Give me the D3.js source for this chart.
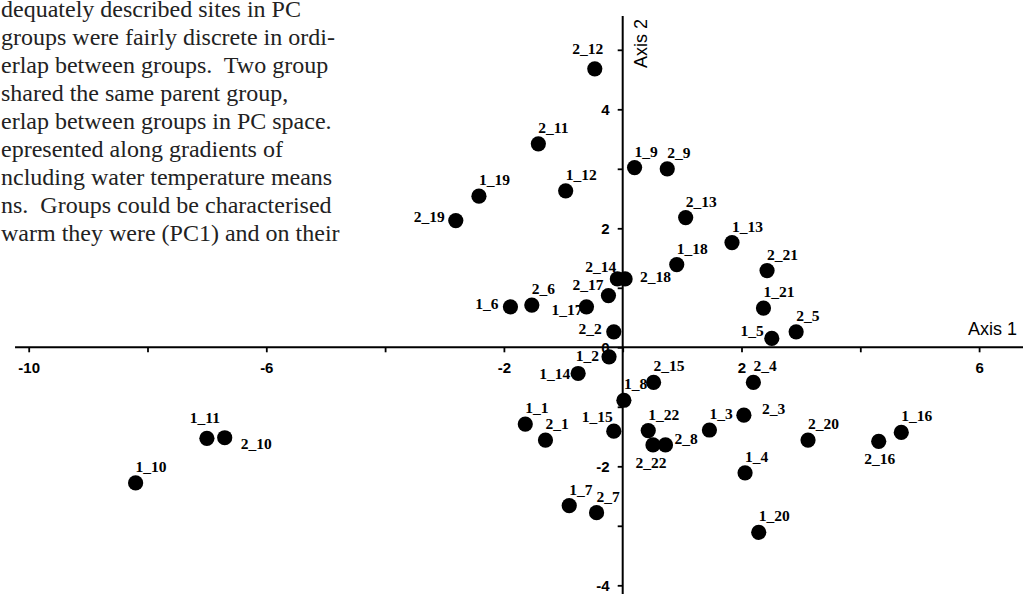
<!DOCTYPE html>
<html>
<head>
<meta charset="utf-8">
<script src="https://cdn.jsdelivr.net/npm/d3@7"></script>
<style>
  html, body { margin: 0; padding: 0; background: #fff; }
  svg { display: block; }
</style>
</head>
<body>
<svg id="chart" width="1023" height="594"></svg>
<script>
// ---- data ----
const sites = ["1_1","1_2","1_3","1_4","1_5","1_6","1_7","1_8","1_9","1_10","1_11","1_12","1_13","1_14","1_15","1_16","1_17","1_18","1_19","1_20","1_21","1_22",
               "2_1","2_2","2_3","2_4","2_5","2_6","2_7","2_8","2_9","2_10","2_11","2_12","2_13","2_14","2_15","2_16","2_17","2_18","2_19","2_20","2_21","2_22"];
const axis1 = [-1.64,-0.23,1.46,2.06,2.51,-1.89,-0.90,0.02,0.20,-8.20,-7.00,-0.96,1.84,-0.75,-0.15,4.69,-0.61,0.91,-2.42,2.29,2.37,0.43,
               -1.30,-0.15,2.04,2.20,2.92,-1.53,-0.44,0.72,0.75,-6.70,-1.42,-0.47,1.06,-0.09,0.52,4.31,-0.24,0.04,-2.81,3.12,2.43,0.51];
const axis2 = [-1.29,-0.16,-1.39,-2.11,0.15,0.68,-2.66,-0.89,3.02,-2.28,-1.53,2.63,1.76,-0.44,-1.41,-1.43,0.68,1.39,2.54,-3.11,0.66,-1.40,
               -1.56,0.26,-1.14,-0.59,0.26,0.71,-2.78,-1.64,3.00,-1.52,3.42,4.68,2.18,1.15,-0.59,-1.58,0.87,1.15,2.13,-1.56,1.29,-1.64];
const xTickValues = [-10,-8,-6,-4,-2,0,2,4,6];
const xTickLabels = ["-10","","-6","","-2","","2","","6"];
const yTickValues = [-4,-3,-2,-1,0,1,2,3,4,5];
const yTickLabels = ["-4","","-2","","0","","2","","4",""];
const textLines = [
  "dequately described sites in PC",
  "groups were fairly discrete in ordi-",
  "erlap between groups.  Two group",
  "shared the same parent group,",
  "erlap between groups in PC space.",
  "epresented along gradients of",
  "ncluding water temperature means",
  "ns.  Groups could be characterised",
  "warm they were (PC1) and on their"
];

// ---- label placement (layout only): [anchor, dx, dy] ----
const defaultLabel = ["start", 0, -11];
const labelPlacement = {
  "2_19": ["end", -11, 1],
  "2_14": ["end", -1, -7],
  "2_18": ["start", 15, 3],
  "1_6":  ["end", -12, 2],
  "2_17": ["end", -5, -6],
  "1_17": ["end", -4, 8],
  "2_2":  ["end", -12, 2],
  "1_5":  ["end", -8, -2],
  "1_11": ["middle", -2, -15],
  "2_10": ["start", 16, 11],
  "1_2":  ["end", -10, 4],
  "1_14": ["end", -8, 6],
  "1_15": ["end", -1, -9],
  "2_8":  ["start", 9, -1],
  "2_22": ["middle", -2, 23],
  "2_3":  ["start", 18, -1],
  "2_16": ["middle", 1, 23],
  "2_12": ["middle", -7, -15]
};

const points = sites.map((s, i) => ({ id: s, x: axis1[i], y: axis2[i] }));

const svg = d3.select("#chart");
const x = d3.scaleLinear().domain([-10, 6]).range([28.7, 979.1]);
const y = d3.scaleLinear().domain([-4, 4]).range([585.3, 109.3]);
const x0 = x(0), y0 = y(0);

// paragraph text (cut off on the left, as in the source page)
const para = svg.append("g")
  .attr("font-family", "'Liberation Serif', 'Times New Roman', serif")
  .attr("font-size", 24)
  .attr("fill", "#222");
para.selectAll("text").data(textLines).join("text")
  .attr("x", 1)
  .attr("y", (d, i) => 17 + i * 28)
  .attr("xml:space", "preserve")
  .style("white-space", "pre")
  .text(d => d);

// x axis
const xAxis = d3.axisBottom(x)
  .tickValues(xTickValues)
  .tickSize(5)
  .tickPadding(10)
  .tickFormat((d, i) => xTickLabels[i]);
const gx = svg.append("g").attr("transform", `translate(0,${y0})`).call(xAxis);
gx.select(".domain").remove();
gx.selectAll(".tick line").attr("stroke", "#000").attr("stroke-width", 1.8);
gx.selectAll(".tick text")
  .attr("font-family", "'Liberation Sans', Arial, sans-serif")
  .attr("font-size", 15).attr("font-weight", "bold").attr("fill", "#000");
gx.append("line")
  .attr("x1", x(-10.23)).attr("x2", x(6.75))
  .attr("y1", 0).attr("y2", 0)
  .attr("stroke", "#000").attr("stroke-width", 2);

// y axis
const yAxis = d3.axisLeft(y)
  .tickValues(yTickValues)
  .tickSize(5)
  .tickPadding(8)
  .tickFormat((d, i) => yTickLabels[i]);
const gy = svg.append("g").attr("transform", `translate(${x0},0)`).call(yAxis);
gy.select(".domain").remove();
gy.selectAll(".tick line").attr("stroke", "#000").attr("stroke-width", 1.8);
gy.selectAll(".tick text")
  .attr("font-family", "'Liberation Sans', Arial, sans-serif")
  .attr("font-size", 15).attr("font-weight", "bold").attr("fill", "#000");
gy.append("line")
  .attr("x1", 0).attr("x2", 0)
  .attr("y1", y(5.57)).attr("y2", y(-4.5))
  .attr("stroke", "#000").attr("stroke-width", 2);

// axis titles
svg.append("text")
  .attr("x", 1017).attr("y", y0 - 12)
  .attr("text-anchor", "end")
  .attr("font-family", "'Liberation Sans', Arial, sans-serif")
  .attr("font-size", 18).attr("fill", "#000")
  .text("Axis 1");
svg.append("text")
  .attr("transform", `translate(${x0 + 24.5},68) rotate(-90)`)
  .attr("text-anchor", "start")
  .attr("font-family", "'Liberation Sans', Arial, sans-serif")
  .attr("font-size", 18).attr("fill", "#000")
  .text("Axis 2");

// points
svg.append("g").selectAll("circle").data(points).join("circle")
  .attr("cx", d => x(d.x))
  .attr("cy", d => y(d.y))
  .attr("r", 7.6)
  .attr("fill", "#000");

// point labels
svg.append("g")
  .attr("font-family", "'Liberation Serif', 'Times New Roman', serif")
  .attr("font-size", 15.5).attr("font-weight", "bold").attr("fill", "#000")
  .selectAll("text").data(points).join("text")
  .each(function(d) {
    const p = labelPlacement[d.id] || defaultLabel;
    d3.select(this)
      .attr("text-anchor", p[0])
      .attr("x", x(d.x) + p[1])
      .attr("y", y(d.y) + p[2])
      .text(d.id);
  });
</script>
</body>
</html>
